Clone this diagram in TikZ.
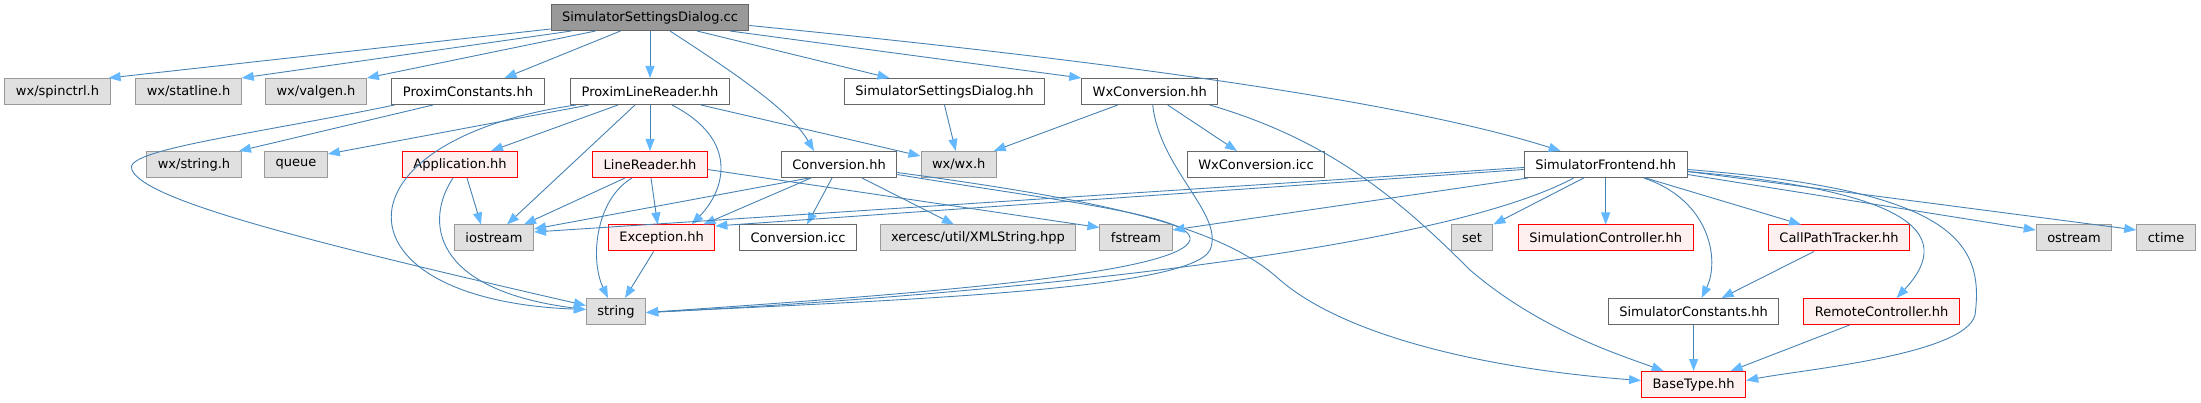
\documentclass[tikz,border=0pt]{standalone}
\usepackage{fontspec}
\setmainfont{DejaVu Sans}
\usetikzlibrary{arrows.meta}
\definecolor{edgeblue}{RGB}{70,130,180}
\definecolor{headblue}{RGB}{99,184,255}
\definecolor{rootgray}{RGB}{153,153,153}
\definecolor{extgray}{RGB}{224,224,224}
\definecolor{bordgray}{RGB}{102,102,102}
\definecolor{redfill}{RGB}{255,240,240}
\tikzset{
  >={Triangle[length=12pt,width=9pt,color=headblue]},
  nd/.style={rectangle,minimum height=26pt,inner xsep=11pt,inner ysep=0pt,line width=1pt,font=\fontsize{13}{15}\selectfont},
  rootn/.style={nd,fill=rootgray,draw=bordgray},
  docn/.style={nd,fill=white,draw=bordgray},
  extn/.style={nd,fill=extgray,draw=rootgray},
  redn/.style={nd,fill=redfill,draw=red},
  every picture/.style={line width=0.5pt},
}
\begin{document}
\begin{tikzpicture}[x=1pt,y=-1pt]
\useasboundingbox (0,0) rectangle (2201,403);
\node[rootn] (root) at (650,17.5){SimulatorSettingsDialog.cc};
\node[extn] (spin) at (57.5,91.5){wx/spinctrl.h}; \node[extn] (statl) at (188.5,91.5){wx/statline.h};
\node[extn] (valgen) at (316,91.5){wx/valgen.h}; \node[docn] (pconst) at (468,91.5){ProximConstants.hh};
\node[docn] (plr) at (650,91.5){ProximLineReader.hh}; \node[docn] (ssdh) at (944.5,91.5){SimulatorSettingsDialog.hh};
\node[docn] (wxconv) at (1149.7,91.5){WxConversion.hh};
\node[extn] (wxstr) at (194,164.5){wx/string.h}; \node[extn] (queue) at (296,164.5){queue};
\node[redn] (app) at (460,164.5){Application.hh}; \node[redn] (lread) at (650,164.5){LineReader.hh};
\node[docn] (conv) at (839,164.5){Conversion.hh}; \node[extn] (wxwx) at (958.7,164.5){wx/wx.h};
\node[docn] (wxicc) at (1256,164.5){WxConversion.icc}; \node[docn] (sfront) at (1605.7,164.5){SimulatorFrontend.hh};
\node[extn] (iostr) at (494,238){iostream}; \node[redn] (exc) at (661.6,238){Exception.hh};
\node[docn] (convicc) at (798,238){Conversion.icc}; \node[extn] (xmls) at (978,238){xercesc/util/XMLString.hpp};
\node[extn] (fstr) at (1136,238){fstream}; \node[extn] (nset) at (1472,238){set};
\node[redn] (simctl) at (1605.7,238){SimulationController.hh}; \node[redn] (cpt) at (1839,238){CallPathTracker.hh};
\node[extn] (ostr) at (2074,238){ostream}; \node[extn] (ctime) at (2166,238){ctime};
\node[extn] (str) at (616,311.5){string}; \node[docn] (sconst) at (1693.6,311.5){SimulatorConstants.hh};
\node[redn] (rctl) at (1881.6,311.5){RemoteController.hh};
\node[redn] (btype) at (1693.6,384.5){BaseType.hh};
\begin{scope}[->,draw=edgeblue,line width=0.9pt]
% root
\draw ([yshift=2pt]root.south west) -- ([xshift=-2pt]spin.north east);
\draw ([xshift=21pt]root.south west) -- (statl.north east);
\draw ([xshift=45pt]root.south west) -- (valgen.north east);
\draw ([xshift=70pt]root.south west) -- ([xshift=-40pt]pconst.north east);
\draw (root.south) -- (plr.north);
\draw ([xshift=20pt]root.south) .. controls (730,70) and (790,110) .. ([xshift=-25pt]conv.north);
\draw ([xshift=47pt]root.south) -- ([xshift=-55pt]ssdh.north);
\draw ([xshift=80pt]root.south) -- (wxconv.north west);
\draw ([yshift=-8pt]root.east) .. controls (1100,60) and (1400,100) .. ([xshift=-45pt]sfront.north);
% ProximConstants, ProximLineReader
\draw ([xshift=-35pt]pconst.south) -- ([xshift=45pt]wxstr.north);
\draw ([xshift=3pt]pconst.south west) .. controls (250,135) and (120,150) .. (132,170) .. controls (145,200) and (300,240) .. ([yshift=6pt]str.west);
\draw ([xshift=-61pt]plr.south) -- ([yshift=-3pt]queue.north east);
\draw ([xshift=-74pt]plr.south) .. controls (330,140) and (330,300) .. ([yshift=2pt]str.west);
\draw ([xshift=-32pt]plr.south) -- ([xshift=31pt]app.north);
\draw ([xshift=-15pt]plr.south) -- ([xshift=13pt]iostr.north);
\draw (plr.south) -- (lread.north);
\draw ([xshift=22pt]plr.south) .. controls (740,140) and (725,190) .. ([xshift=30pt]exc.north);
\draw ([xshift=51pt]plr.south) -- ([yshift=-5pt]wxwx.north west);
% Application, LineReader, Exception
\draw ([xshift=7pt]app.south) -- ([xshift=-13pt]iostr.north);
\draw ([xshift=-7pt]app.south) .. controls (425,220) and (430,290) .. ([yshift=2pt]str.west);
\draw ([xshift=-25pt]lread.south) -- ([xshift=30pt]iostr.north);
\draw ([xshift=-18pt]lread.south) .. controls (595,200) and (590,260) .. ([xshift=-8pt]str.north);
\draw ([xshift=1pt]lread.south) -- ([xshift=-4pt]exc.north);
\draw ([yshift=-5pt]lread.east) -- ([yshift=-3pt]fstr.north west);
\draw ([xshift=-8pt]exc.south) -- ([xshift=9pt]str.north);
% Conversion
\draw ([xshift=-30pt]conv.south) -- ([yshift=9pt]iostr.east);
\draw ([xshift=-28pt]conv.south) -- ([xshift=-12pt]exc.north east);
\draw ([xshift=-7pt]conv.south) -- ([xshift=9pt]convicc.north);
\draw ([xshift=23pt]conv.south) -- ([xshift=-24pt]xmls.north);
\draw ([yshift=-10pt]conv.east) .. controls (1050,200) and (1195,215) .. (1190,240) .. controls (1180,275) and (900,295) .. ([yshift=-1pt]str.east);
\draw ([yshift=-8pt]conv.east) .. controls (1100,200) and (1220,225) .. (1280,280) .. controls (1350,340) and (1500,370) .. ([yshift=4pt]btype.west);
% SimulatorSettingsDialog.hh, WxConversion
\draw (ssdh.south) -- ([xshift=-3pt]wxwx.north);
\draw ([xshift=-32pt]wxconv.south) -- ([xshift=35pt]wxwx.north);
\draw ([xshift=18pt]wxconv.south) -- ([xshift=-19pt]wxicc.north);
\draw ([xshift=3pt]wxconv.south) .. controls (1160,170) and (1225,215) .. (1210,250) .. controls (1190,290) and (900,300) .. ([yshift=-1pt]str.east);
\draw ([xshift=60pt]wxconv.south) .. controls (1330,140) and (1400,200) .. (1470,270) .. controls (1540,330) and (1620,355) .. ([xshift=-30pt]btype.north);
% SimulatorFrontend
\draw ([yshift=-3pt]sfront.west) -- ([yshift=6pt]iostr.east);
\draw ([yshift=-5pt]sfront.west) -- ([yshift=12pt]exc.east);
\draw ([xshift=4pt]sfront.south west) -- ([yshift=8pt]fstr.east);
\draw ([xshift=-32pt]sfront.south) .. controls (1420,260) and (900,300) .. ([yshift=-1pt]str.east);
\draw ([xshift=-22pt]sfront.south) -- (nset.north east);
\draw (sfront.south) -- (simctl.north);
\draw ([xshift=38pt]sfront.south) .. controls (1710,200) and (1720,260) .. ([xshift=8pt]sconst.north);
\draw ([xshift=40pt]sfront.south) -- ([xshift=-38pt]cpt.north);
\draw ([yshift=-7pt]sfront.east) .. controls (1900,190) and (1960,230) .. ([xshift=15pt]rctl.north);
\draw ([yshift=-5pt]sfront.east) .. controls (1950,190) and (1985,240) .. (1975,315) .. controls (1965,355) and (1800,370) .. ([yshift=4pt]btype.east);
\draw ([yshift=-10pt]sfront.east) -- ([yshift=8pt]ostr.west);
\draw ([yshift=-7pt]sfront.east) -- ([yshift=8pt]ctime.west);
% lower nodes
\draw ([xshift=-25pt]cpt.south) -- ([xshift=28pt]sconst.north);
\draw (sconst.south) -- (btype.north);
\draw ([xshift=-32pt]rctl.south) -- ([xshift=37pt]btype.north);
\end{scope}
\end{tikzpicture}
\end{document}
